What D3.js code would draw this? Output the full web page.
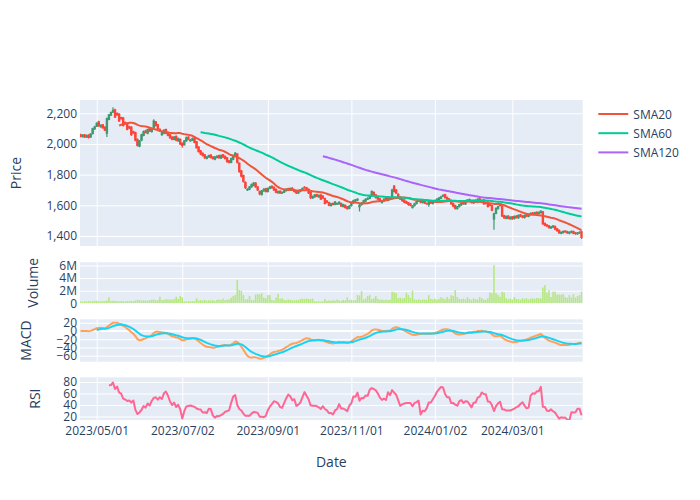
<!DOCTYPE html>
<html><head><meta charset="utf-8">
<script src="https://cdn.jsdelivr.net/npm/d3@7"></script>
<style>
body{margin:0;background:#fff}
text{font-family:"Open Sans",verdana,arial,sans-serif;}
</style>
</head><body>
<svg id="chart" width="700" height="500"></svg>
<script>
// Trading days (Tokyo market calendar) per month
const monthDays = [
  ["2023-04","19 20 21 24 25 26 27 28"],
  ["2023-05","1 2 8 9 10 11 12 15 16 17 18 19 22 23 24 25 26 29 30 31"],
  ["2023-06","1 2 5 6 7 8 9 12 13 14 15 16 19 20 21 22 23 26 27 28 29 30"],
  ["2023-07","3 4 5 6 7 10 11 12 13 14 18 19 20 21 24 25 26 27 28 31"],
  ["2023-08","1 2 3 4 7 8 9 10 14 15 16 17 18 21 22 23 24 25 28 29 30 31"],
  ["2023-09","1 4 5 6 7 8 11 12 13 14 15 19 20 21 22 25 26 27 28 29"],
  ["2023-10","2 3 4 5 6 10 11 12 13 16 17 18 19 20 23 24 25 26 27 30 31"],
  ["2023-11","1 2 6 7 8 9 10 13 14 15 16 17 20 21 22 24 27 28 29 30"],
  ["2023-12","1 4 5 6 7 8 11 12 13 14 15 18 19 20 21 22 25 26 27 28 29"],
  ["2024-01","4 5 9 10 11 12 15 16 17 18 19 22 23 24 25 26 29 30 31"],
  ["2024-02","1 2 5 6 7 8 9 13 14 15 16 19 20 21 22 26 27 28 29"],
  ["2024-03","1 4 5 6 7 8 11 12 13 14 15 18 19 21 22 25 26 27 28 29"],
  ["2024-04","1 2 3 4 5 8 9 10 11 12 15 16 17 18 19"]
];
const tickLabels = ["2023/05/01","2023/07/02","2023/09/01","2023/11/01","2024/01/02","2024/03/01"];

const opens = [
2060,2048,2060,2045,2058,2045,2068,2098,2115,2145,
2112,2125,2110,2070,2160,2188,2208,2222,2200,2195,
2172,2170,2140,2135,2112,2110,2080,2075,2030,1985,
2025,2055,2085,2070,2100,2080,2105,2145,2125,2095,
2060,2070,2095,2075,2060,2045,2030,2050,2020,2030,
2005,1995,2020,2045,2020,2025,2040,2015,1980,1955,
1940,1930,1905,1915,1928,1915,1900,1912,1925,1908,
1930,1920,1910,1890,1880,1900,1920,1935,1875,1825,
1795,1750,1700,1705,1720,1730,1745,1720,1690,1670,
1695,1708,1690,1710,1725,1718,1705,1682,1692,1680,
1685,1695,1708,1700,1712,1702,1692,1680,1692,1700,
1718,1715,1705,1685,1648,1655,1670,1655,1668,1660,
1645,1628,1618,1598,1612,1605,1608,1610,1612,1592,
1600,1590,1580,1598,1615,1628,1634,1590,1605,1618,
1628,1640,1645,1662,1685,1668,1655,1642,1618,1628,
1645,1632,1650,1645,1725,1700,1672,1655,1645,1635,
1625,1618,1610,1585,1598,1612,1628,1632,1618,1632,
1612,1605,1628,1612,1622,1630,1638,1645,1660,1670,
1652,1642,1632,1612,1598,1578,1592,1603,1618,1608,
1626,1638,1628,1615,1632,1620,1642,1622,1635,1612,
1620,1605,1598,1510,1548,1578,1605,1595,1532,1515,
1530,1512,1525,1514,1530,1518,1538,1530,1520,1538,
1528,1540,1550,1544,1555,1546,1552,1558,1482,1472,
1466,1452,1458,1462,1447,1437,1418,1422,1432,1428,
1418,1424,1430,1420,1414,1420,1428];

const highs = [
2066,2064,2065,2062,2063,2070,2106,2118,2142,2152,
2128,2130,2116,2172,2196,2212,2240,2230,2206,2200,
2178,2175,2146,2140,2118,2115,2086,2080,2036,2026,
2066,2088,2092,2100,2106,2108,2162,2150,2130,2102,
2082,2096,2100,2080,2065,2050,2052,2056,2042,2036,
2010,2026,2048,2050,2032,2042,2045,2020,1985,1960,
1945,1935,1922,1930,1933,1920,1922,1926,1930,1932,
1935,1925,1915,1896,1912,1932,1948,1940,1880,1830,
1800,1756,1712,1726,1742,1752,1750,1725,1696,1700,
1712,1714,1716,1726,1730,1722,1710,1696,1698,1690,
1700,1710,1714,1716,1718,1708,1697,1700,1706,1716,
1724,1720,1710,1690,1664,1674,1676,1670,1673,1666,
1650,1634,1624,1616,1618,1628,1618,1626,1618,1610,
1606,1595,1600,1624,1636,1642,1646,1608,1620,1636,
1646,1652,1666,1698,1690,1674,1660,1648,1632,1646,
1650,1652,1655,1708,1732,1706,1678,1660,1650,1640,
1630,1622,1615,1602,1616,1630,1636,1638,1636,1638,
1618,1630,1634,1626,1636,1646,1654,1662,1672,1676,
1658,1648,1638,1618,1604,1596,1610,1620,1623,1634,
1640,1644,1634,1636,1638,1646,1648,1638,1640,1624,
1626,1610,1604,1552,1588,1598,1610,1600,1538,1534,
1536,1528,1530,1534,1536,1540,1544,1536,1540,1544,
1546,1554,1556,1558,1560,1560,1568,1562,1488,1478,
1472,1466,1472,1468,1452,1442,1430,1436,1438,1434,
1430,1436,1435,1426,1426,1430,1432];

const lows = [
2044,2042,2040,2040,2036,2040,2062,2092,2110,2112,
2106,2100,2084,2045,2154,2182,2202,2170,2184,2144,
2160,2114,2126,2090,2098,2054,2066,2018,1984,1978,
2018,2050,2068,2064,2078,2074,2100,2114,2094,2078,
2054,2064,2064,2050,2034,2024,2024,2018,2014,1994,
1975,1990,2014,2024,2014,2020,2004,1970,1944,1928,
1918,1904,1900,1910,1906,1898,1894,1906,1904,1902,
1908,1898,1878,1872,1874,1894,1914,1872,1812,1782,
1748,1706,1694,1698,1714,1724,1714,1694,1666,1664,
1688,1684,1684,1704,1708,1694,1678,1676,1674,1674,
1680,1690,1694,1694,1694,1684,1674,1674,1686,1694,
1708,1698,1674,1642,1642,1650,1654,1650,1634,1642,
1606,1614,1594,1592,1600,1600,1602,1604,1590,1586,
1580,1572,1574,1592,1610,1622,1628,1560,1598,1612,
1622,1634,1640,1656,1658,1644,1634,1624,1612,1622,
1628,1626,1634,1640,1684,1674,1644,1634,1624,1614,
1608,1598,1594,1580,1592,1606,1622,1614,1612,1608,
1604,1590,1608,1606,1616,1624,1632,1640,1654,1644,
1634,1624,1604,1588,1572,1572,1586,1597,1604,1602,
1620,1620,1612,1610,1616,1614,1620,1616,1604,1606,
1586,1594,1562,1440,1542,1572,1592,1524,1512,1509,
1510,1506,1506,1508,1514,1512,1522,1516,1514,1524,
1522,1534,1540,1538,1542,1540,1546,1472,1464,1458,
1448,1446,1452,1438,1428,1414,1412,1416,1422,1414,
1412,1418,1412,1408,1408,1414,1380];

const closes = [
2050,2058,2045,2055,2042,2065,2100,2112,2135,2118,
2122,2105,2090,2165,2190,2205,2220,2175,2190,2150,
2165,2120,2132,2095,2105,2060,2072,2025,1990,2020,
2060,2080,2075,2095,2085,2100,2150,2120,2100,2085,
2075,2090,2070,2055,2040,2030,2045,2025,2035,2000,
1990,2020,2040,2030,2025,2035,2010,1975,1950,1935,
1925,1910,1915,1925,1912,1905,1915,1920,1910,1925,
1915,1905,1885,1880,1905,1925,1940,1880,1820,1790,
1755,1715,1705,1720,1735,1745,1720,1700,1675,1695,
1705,1690,1710,1720,1715,1700,1685,1690,1680,1685,
1695,1705,1700,1710,1700,1690,1680,1695,1700,1710,
1715,1705,1680,1650,1658,1668,1660,1665,1640,1648,
1612,1620,1600,1610,1605,1622,1612,1620,1595,1605,
1585,1578,1595,1618,1630,1636,1640,1600,1615,1630,
1640,1645,1660,1690,1665,1650,1640,1630,1625,1640,
1635,1645,1640,1700,1690,1680,1650,1640,1630,1620,
1615,1605,1600,1595,1610,1625,1630,1620,1630,1615,
1610,1625,1615,1620,1630,1640,1648,1655,1665,1650,
1640,1630,1610,1595,1580,1590,1605,1615,1610,1628,
1635,1625,1618,1630,1622,1640,1625,1632,1610,1618,
1592,1600,1568,1545,1580,1592,1598,1530,1518,1528,
1515,1522,1512,1528,1520,1535,1528,1522,1535,1530,
1540,1548,1545,1552,1548,1555,1562,1480,1470,1465,
1455,1460,1465,1445,1435,1420,1425,1430,1428,1420,
1425,1430,1418,1415,1420,1425,1390];

const volumesM = [
0.30,0.25,0.32,0.28,0.35,0.30,0.33,0.38,0.40,0.32,
0.30,0.36,0.34,0.45,0.95,0.35,0.40,0.38,0.32,0.30,
0.36,0.34,0.30,0.35,0.33,0.38,0.36,0.45,0.55,0.50,
0.45,0.48,0.42,0.40,0.50,0.55,0.60,0.48,0.52,1.05,
0.50,0.55,0.65,0.62,0.60,0.58,0.66,1.05,0.70,1.15,
0.95,0.30,0.28,0.32,0.30,0.35,0.33,0.80,0.45,0.50,
0.42,0.55,0.40,0.48,0.44,0.50,0.35,0.55,0.60,0.52,
0.75,0.50,0.58,0.62,0.90,1.15,1.30,3.70,2.10,2.00,
1.30,0.60,0.65,1.15,0.55,0.50,1.40,1.45,1.40,1.60,
0.90,0.80,1.30,1.30,0.55,0.45,0.90,1.50,0.70,0.80,
0.55,0.50,0.60,0.55,0.50,0.45,0.55,0.50,0.70,0.72,
0.68,0.75,0.70,0.65,0.72,0.30,0.28,0.32,0.25,0.30,
0.65,0.40,0.45,0.38,0.50,0.42,0.60,0.45,0.40,0.55,
0.48,0.95,0.50,0.55,0.45,0.52,1.30,1.25,1.95,0.60,
0.75,1.15,1.30,0.65,0.80,1.15,0.70,0.55,0.60,0.50,
0.58,0.52,0.55,1.85,1.75,1.60,0.80,0.90,0.75,0.85,
1.70,1.30,0.85,2.00,0.60,0.55,0.65,0.50,0.62,0.58,
0.55,1.30,0.70,0.60,0.75,0.55,0.70,0.95,0.80,0.65,
1.00,0.70,1.30,1.15,2.10,1.00,0.70,0.65,0.75,0.60,
0.95,0.70,0.55,0.80,0.65,0.60,1.00,0.80,0.60,0.55,
0.80,1.70,1.60,6.05,1.60,1.30,1.05,1.85,1.70,0.80,
0.65,0.75,0.60,1.00,0.70,0.65,0.55,0.80,0.70,0.80,
0.60,0.75,0.80,0.70,0.85,0.80,0.75,2.50,2.90,1.70,
2.10,1.00,1.85,1.85,1.40,1.40,1.35,1.45,1.00,0.85,
1.30,0.95,1.45,0.90,1.15,1.30,1.85];

const smaWindows = [20, 60, 120];
const smaNames = ["SMA20", "SMA60", "SMA120"];
const smaColors = ["#EF553B", "#00CC96", "#AB63FA"];
const priceTicks = [1400, 1600, 1800, 2000, 2200];
const volumeTicks = [0, 2, 4, 6];
const macdTicks = [-60, -40, -20, 0, 20];
const rsiTicks = [20, 40, 60, 80];

// ---- derived
const dates = monthDays.flatMap(([ym, ds]) => ds.split(" ").map(d => ym + "-" + d.padStart(2, "0")));
const N = dates.length;
const idx = d3.range(N);

function sma(n) { return idx.map(i => i < n - 1 ? null : d3.mean(closes.slice(i - n + 1, i + 1))); }
// exponentially weighted mean with adjusted (normalised) weights
function ewm(arr, span) {
  const a = 2 / (span + 1); let num = 0, den = 0;
  return arr.map(v => { num = v + (1 - a) * num; den = 1 + (1 - a) * den; return num / den; });
}
const ema12 = ewm(closes, 12), ema26 = ewm(closes, 26);
const macd = idx.map(i => ema12[i] - ema26[i]);
const signalFull = ewm(macd, 9);
const signal = idx.map(i => i < 8 ? null : signalFull[i]);
const rsi = idx.map(i => {
  if (i < 14) return null;
  let g = 0, l = 0;
  for (let j = i - 13; j <= i; j++) { const d = closes[j] - closes[j - 1]; if (d > 0) g += d; else l -= d; }
  return l === 0 ? 100 : 100 - 100 / (1 + g / l);
});

// ---- layout
const svg = d3.select("#chart");
const L = 80, R = 582.7;
const textColor = "#2a3f5f";
const x = d3.scaleLinear().domain([-0.2, N - 1 + 0.55]).range([L, R]);
const panels = {
  price:  { top: 100,   bottom: 246,   domain: [1334.8, 2286.7], ticks: priceTicks, fmt: d3.format(","), title: "Price", tx: 15.5 },
  volume: { top: 262.3, bottom: 303.3, domain: [0, 6.51],        ticks: volumeTicks, fmt: d => d === 0 ? "0" : d + "M", title: "Volume", tx: 32.5 },
  macd:   { top: 319.3, bottom: 361.7, domain: [-74.6, 28.5],    ticks: macdTicks, fmt: d3.format("d"), title: "MACD", tx: 25.3 },
  rsi:    { top: 377.3, bottom: 420,   domain: [13.9, 88.2],     ticks: rsiTicks, fmt: d3.format("d"), title: "RSI", tx: 34.7 }
};
const tickIdx = tickLabels.map(t => { const s = t.replace(/\//g, "-"); return dates.findIndex(d => d >= s); });

Object.entries(panels).forEach(([key, p]) => {
  p.y = d3.scaleLinear().domain(p.domain).range([p.bottom, p.top]);
  svg.append("rect").attr("x", L).attr("y", p.top).attr("width", R - L).attr("height", p.bottom - p.top).attr("fill", "#E5ECF6");
  svg.append("g").attr("transform", `translate(${L},0)`)
    .call(d3.axisLeft(p.y).tickValues(p.ticks).tickSize(-(R - L)).tickFormat(""))
    .call(g => g.select(".domain").remove())
    .call(g => g.selectAll("line").attr("stroke", "#fff").attr("stroke-width", 1));
  svg.append("g").attr("transform", `translate(0,${p.bottom})`)
    .call(d3.axisBottom(x).tickValues(tickIdx).tickSize(-(p.bottom - p.top)).tickFormat(""))
    .call(g => g.select(".domain").remove())
    .call(g => g.selectAll("line").attr("stroke", "#fff").attr("stroke-width", 1));
  svg.append("g").attr("transform", `translate(${L},0)`)
    .call(d3.axisLeft(p.y).tickValues(p.ticks).tickSize(0).tickPadding(3).tickFormat(p.fmt))
    .call(g => g.select(".domain").remove())
    .call(g => g.selectAll("text").attr("fill", textColor).attr("font-size", 12).style("font-family", '"Open Sans",verdana,arial,sans-serif'));
  svg.append("text").attr("transform", `translate(${p.tx},${(p.top + p.bottom) / 2}) rotate(-90)`)
    .attr("text-anchor", "middle").attr("dominant-baseline", "central")
    .attr("fill", textColor).attr("font-size", 14).text(p.title);
  svg.append("clipPath").attr("id", "clip-" + key).append("rect")
    .attr("x", L).attr("y", p.top).attr("width", R - L).attr("height", p.bottom - p.top);
});

// MACD zero line
svg.append("line").attr("x1", L).attr("x2", R)
  .attr("y1", panels.macd.y(0)).attr("y2", panels.macd.y(0)).attr("stroke", "#fff").attr("stroke-width", 2);

// ---- candlesticks
const P = panels.price;
const candles = svg.append("g").attr("clip-path", "url(#clip-price)");
const up = "#3D9970", down = "#FF4136";
idx.forEach(i => {
  const c = closes[i] > opens[i] ? up : down;
  const cx = x(i);
  candles.append("line").attr("x1", cx).attr("x2", cx).attr("y1", P.y(highs[i])).attr("y2", P.y(lows[i]))
    .attr("stroke", c).attr("stroke-width", 1.2);
  const y0 = P.y(Math.max(opens[i], closes[i])), y1 = P.y(Math.min(opens[i], closes[i]));
  candles.append("rect").attr("x", cx - 0.7).attr("y", y0).attr("width", 1.4).attr("height", Math.max(0.3, y1 - y0))
    .attr("fill", c).attr("stroke", c).attr("stroke-width", 1);
});

// SMA lines
smaWindows.forEach((n, k) => {
  const s = sma(n);
  svg.append("path").attr("clip-path", "url(#clip-price)")
    .datum(idx.filter(i => s[i] !== null))
    .attr("fill", "none").attr("stroke", smaColors[k]).attr("stroke-width", 2).attr("stroke-linejoin", "round")
    .attr("d", d3.line().x(i => x(i)).y(i => P.y(s[i])));
});

// ---- volume
const V = panels.volume;
svg.append("g").attr("clip-path", "url(#clip-volume)").selectAll("rect").data(idx).join("rect")
  .attr("x", i => x(i) - 0.8).attr("width", 1.6)
  .attr("y", i => V.y(volumesM[i])).attr("height", i => V.y(0) - V.y(volumesM[i]))
  .attr("fill", "#B6E880");

// ---- MACD
const M = panels.macd;
svg.append("path").attr("clip-path", "url(#clip-macd)").datum(idx)
  .attr("fill", "none").attr("stroke", "#FFA15A").attr("stroke-width", 2).attr("stroke-linejoin", "round")
  .attr("d", d3.line().x(i => x(i)).y(i => M.y(macd[i])));
svg.append("path").attr("clip-path", "url(#clip-macd)").datum(idx.filter(i => signal[i] !== null))
  .attr("fill", "none").attr("stroke", "#19D3F3").attr("stroke-width", 2).attr("stroke-linejoin", "round")
  .attr("d", d3.line().x(i => x(i)).y(i => M.y(signal[i])));

// ---- RSI
const Rp = panels.rsi;
svg.append("path").attr("clip-path", "url(#clip-rsi)").datum(idx.filter(i => rsi[i] !== null))
  .attr("fill", "none").attr("stroke", "#FF6692").attr("stroke-width", 2).attr("stroke-linejoin", "round")
  .attr("d", d3.line().x(i => x(i)).y(i => Rp.y(rsi[i])));

// ---- x axis labels (bottom panel)
svg.append("g").attr("transform", `translate(0,${Rp.bottom})`)
  .call(d3.axisBottom(x).tickValues(tickIdx).tickSize(0).tickPadding(6).tickFormat((d, k) => tickLabels[k]))
  .call(g => g.select(".domain").remove())
  .call(g => g.selectAll("text").attr("fill", textColor).attr("font-size", 12).style("font-family", '"Open Sans",verdana,arial,sans-serif'));
svg.append("text").attr("x", (L + R) / 2).attr("y", 467).attr("text-anchor", "middle")
  .attr("fill", textColor).attr("font-size", 14).text("Date");

// ---- legend
const leg = svg.append("g");
smaNames.forEach((nm, k) => {
  const yy = 114 + k * 19.2;
  leg.append("line").attr("x1", 598.3).attr("x2", 628.3).attr("y1", yy).attr("y2", yy)
    .attr("stroke", smaColors[k]).attr("stroke-width", 2);
  leg.append("text").attr("x", 633.3).attr("y", yy).attr("dominant-baseline", "central")
    .attr("fill", textColor).attr("font-size", 12).text(nm);
});

[opens, highs, lows, closes, volumesM].forEach((a, k) => {
  if (a.length !== N) svg.append("text").attr("x", 100).attr("y", 60 + k * 14).attr("fill", "red").text("len mismatch " + k + ": " + a.length + " vs " + N);
});
</script>
</body></html>
